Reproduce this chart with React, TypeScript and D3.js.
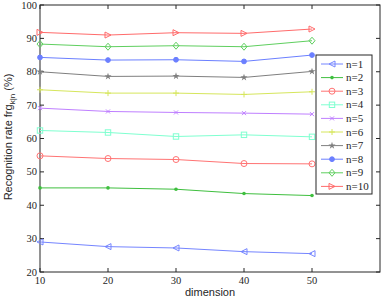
import * as d3 from "d3";

const dims = [10, 20, 30, 40, 50];
const seriesNames = ["n=1", "n=2", "n=3", "n=4", "n=5", "n=6", "n=7", "n=8", "n=9", "n=10"];
const n1 = [29.0, 27.6, 27.2, 26.1, 25.5];
const n2 = [45.2, 45.2, 44.8, 43.5, 42.9];
const n3 = [54.8, 54.0, 53.7, 52.5, 52.4];
const n4 = [62.4, 61.8, 60.6, 61.1, 60.5];
const n5 = [69.1, 68.1, 67.8, 67.6, 67.3];
const n6 = [74.6, 73.6, 73.6, 73.2, 74.0];
const n7 = [80.0, 78.6, 78.7, 78.3, 80.1];
const n8 = [84.3, 83.5, 83.6, 83.1, 85.0];
const n9 = [88.3, 87.5, 87.8, 87.5, 89.3];
const n10 = [91.8, 91.0, 91.7, 91.5, 92.8];
const allSeries = [n1, n2, n3, n4, n5, n6, n7, n8, n9, n10];
const colors = ["#7585ff", "#3fbf3f", "#ff7373", "#7fffd0", "#bf7fff", "#d6e65c", "#7f7f7f", "#6b7fff", "#5fcf5f", "#ff6b6b"];
const markers = ["triLeft", "dot", "circle", "square", "x", "plus", "star", "fdot", "diamond", "triRight"];
const xTicks = [10, 20, 30, 40, 50];
const yTicks = [20, 30, 40, 50, 60, 70, 80, 90, 100];

const SERIF = "'Liberation Serif', 'Times New Roman', 'DejaVu Serif', serif";
const SANS = "'Liberation Sans', Arial, sans-serif";

function Marker({ kind, x, y, color }: { kind: string; x: number; y: number; color: string }) {
  const r = 3;
  const p = { stroke: color, fill: "none", strokeWidth: 1 };
  switch (kind) {
    case "triLeft":
      return <path d={`M${x - r},${y}L${x + r},${y - r}L${x + r},${y + r}Z`} {...p} />;
    case "triRight":
      return <path d={`M${x + r},${y}L${x - r},${y - r}L${x - r},${y + r}Z`} {...p} />;
    case "dot":
      return <circle cx={x} cy={y} r={1.8} fill={color} />;
    case "fdot":
      return <circle cx={x} cy={y} r={2.4} fill={color} stroke={color} />;
    case "circle":
      return <circle cx={x} cy={y} r={r} {...p} />;
    case "square":
      return <rect x={x - 2.7} y={y - 2.7} width={5.4} height={5.4} {...p} />;
    case "diamond":
      return <path d={`M${x},${y - r - 0.5}L${x + r},${y}L${x},${y + r + 0.5}L${x - r},${y}Z`} {...p} />;
    case "x":
      return <path d={`M${x - 2},${y - 2}L${x + 2},${y + 2}M${x - 2},${y + 2}L${x + 2},${y - 2}`} {...p} />;
    case "plus":
      return <path d={`M${x - 3},${y}L${x + 3},${y}M${x},${y - 3}L${x},${y + 3}`} {...p} />;
    case "star": {
      const s = d3.symbol(d3.symbolStar, 16)() || "";
      return <path d={s} transform={`translate(${x},${y})`} fill={color} />;
    }
    default:
      return null;
  }
}

export default function App() {
  const W = 382;
  const H = 298;
  const left = 40;
  const right = 380;
  const top = 5;
  const bottom = 272;
  const x = d3.scaleLinear().domain([10, 60]).range([left, right]);
  const y = d3.scaleLinear().domain([20, 100]).range([bottom, top]);
  const line = d3
    .line<number>()
    .x((_, i) => x(dims[i]))
    .y((d) => y(d));

  const legX = 316;
  const legY = 55;
  const legW = 56;
  const rowH = 13.6;
  const legH = 139;

  return (
    <svg
      width={W}
      height={H}
      style={{ position: "absolute", left: 0, top: 0, background: "#fff" }}
    >
      {/* frame */}
      <rect x={left} y={top} width={right - left} height={bottom - top} fill="none" stroke="#262626" strokeWidth={1} />
      {xTicks.map((t) => (
        <g key={"x" + t}>
          <line x1={x(t)} x2={x(t)} y1={bottom} y2={bottom - 4} stroke="#262626" />
          <line x1={x(t)} x2={x(t)} y1={top} y2={top + 4} stroke="#262626" />
          <text x={x(t)} y={284} textAnchor="middle" fontFamily={SERIF} fontSize={10.5} fill="#262626">
            {t}
          </text>
        </g>
      ))}
      {yTicks.map((t) => (
        <g key={"y" + t}>
          <line x1={left} x2={left + 4} y1={y(t)} y2={y(t)} stroke="#262626" />
          <line x1={right} x2={right - 4} y1={y(t)} y2={y(t)} stroke="#262626" />
          <text x={left - 3} y={y(t) + 3.5} textAnchor="end" fontFamily={SERIF} fontSize={10.5} fill="#262626">
            {t}
          </text>
        </g>
      ))}
      <text x={(left + right) / 2} y={296} textAnchor="middle" fontFamily={SANS} fontSize={11} fill="#262626">
        dimension
      </text>
      <text
        transform={`translate(12,137) rotate(-90)`}
        textAnchor="middle"
        fontFamily={SANS}
        fontSize={11}
        fill="#262626"
      >
        Recognition rate frg
        <tspan fontSize={8} dy={3}>k|n</tspan>
        <tspan dy={-3}>{"  (%)"}</tspan>
      </text>

      {/* series */}
      {allSeries.map((s, k) => (
        <g key={seriesNames[k]}>
          <path d={line(s) || ""} fill="none" stroke={colors[k]} strokeWidth={1} />
          {s.map((v, i) => (
            <Marker key={i} kind={markers[k]} x={x(dims[i])} y={y(v)} color={colors[k]} />
          ))}
        </g>
      ))}

      {/* legend */}
      <rect x={legX} y={legY} width={legW} height={legH} fill="#fff" stroke="#262626" />
      {seriesNames.map((n, k) => {
        const cy = legY + 9 + k * rowH;
        return (
          <g key={"l" + n}>
            <line x1={legX + 5} x2={legX + 27} y1={cy} y2={cy} stroke={colors[k]} />
            <Marker kind={markers[k]} x={legX + 16} y={cy} color={colors[k]} />
            <text x={legX + 30} y={cy + 3.5} fontFamily={SERIF} fontSize={11} fill="#262626">
              {n}
            </text>
          </g>
        );
      })}
    </svg>
  );
}
